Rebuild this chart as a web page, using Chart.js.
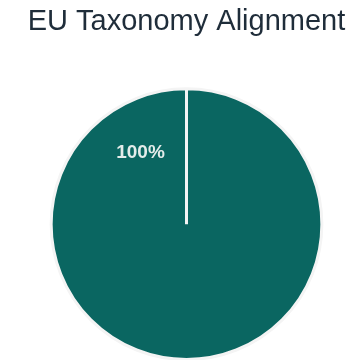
<!DOCTYPE html>
<html>
<head>
<meta charset="utf-8">
<script src="https://cdn.jsdelivr.net/npm/chart.js@4.4.0/dist/chart.umd.min.js"></script>
<style>
  html, body { margin: 0; padding: 0; background: #fff; overflow: hidden; }
  #wrap { width: 373px; height: 361px; }
</style>
</head>
<body>
<div id="wrap"><canvas id="myChart"></canvas></div>
<script>
const categories = ["Aligned"];
const alignmentValues = [100];
const sliceLabels = ["100%"];

// draws the percent label inside the slice
const sliceLabelPlugin = {
  id: "sliceLabel",
  afterDatasetsDraw(chart) {
    const ctx = chart.ctx;
    const meta = chart.getDatasetMeta(0);
    meta.data.forEach((arc, i) => {
      const angle = -Math.PI / 2 - 0.57;
      const dist = arc.outerRadius * 0.63;
      const x = arc.x + Math.cos(angle) * dist;
      const y = arc.y + Math.sin(angle) * dist;
      ctx.save();
      ctx.font = "bold 19px Arial, 'Liberation Sans', sans-serif";
      ctx.fillStyle = "#e4ecea";
      ctx.textAlign = "center";
      ctx.textBaseline = "middle";
      ctx.fillText(sliceLabels[i], x, y);
      ctx.restore();
    });
  },
};

new Chart(document.getElementById("myChart"), {
  type: "pie",
  data: {
    labels: categories,
    datasets: [
      {
        data: alignmentValues,
        backgroundColor: ["#0a6661"],
        borderColor: "#f4f4f4",
        borderWidth: 3,
      },
    ],
  },
  options: {
    responsive: true,
    maintainAspectRatio: false,
    animation: false,
    layout: { padding: 0 },
    plugins: {
      legend: { display: false },
      tooltip: { enabled: false },
      title: {
        display: true,
        text: "EU Taxonomy Alignment",
        color: "#1f2d3a",
        font: { family: "Arial, 'Liberation Sans', sans-serif", size: 29, weight: "normal" },
        padding: { top: 5, bottom: 47.5 },
      },
    },
  },
  plugins: [sliceLabelPlugin],
});
</script>
</body>
</html>
